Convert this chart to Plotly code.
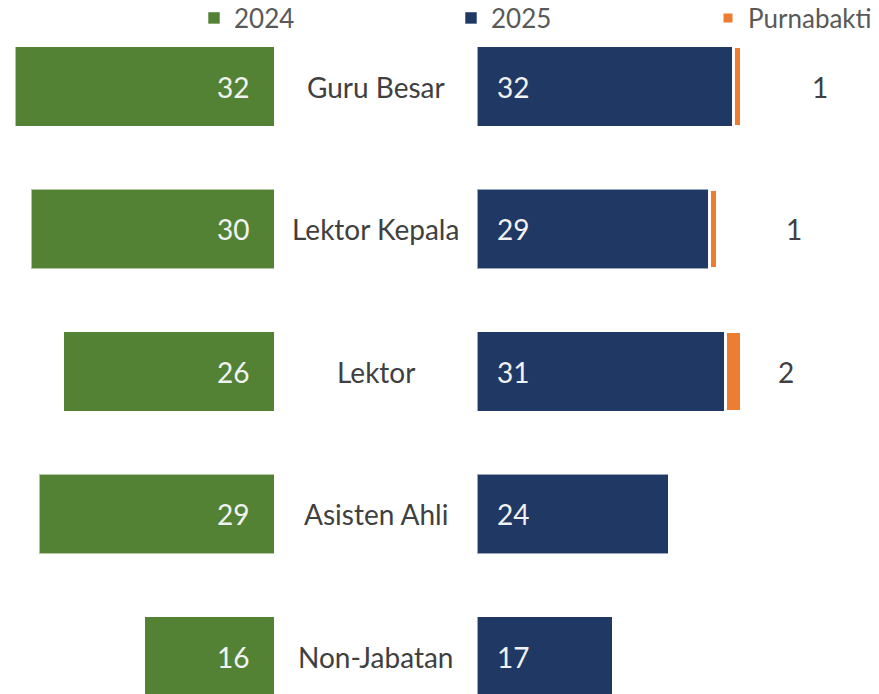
import plotly.graph_objects as go

# Jumlah dosen per jabatan fungsional
categories = ["Guru Besar", "Lektor Kepala", "Lektor", "Asisten Ahli", "Non-Jabatan"]
val_2024 = [32, 30, 26, 29, 16]
val_2025 = [32, 29, 31, 24, 17]
purnabakti = [1, 1, 2, None, None]

# style only: extra offset (px) of the Purnabakti labels
purna_label_shift = [78, 76, 44]

GREEN = "#548235"
NAVY = "#203864"
ORANGE = "#ED7D31"
FONT = "Lato"

# page has an 8px body margin, so the figure is made 8px smaller and
# every pixel position below is measured minus 8
OFF = 8
W, H = 879 - OFF, 694 - OFF
left_zero = 274 - OFF   # px where 2024 bars start (growing left)
right_zero = 477 - OFF  # px where 2025 bars start
px_left = 8.09          # px per unit
px_right = 8.02

fig = go.Figure()

fig.add_trace(go.Bar(
    y=categories, x=val_2024, orientation="h", name="2024",
    marker=dict(color=GREEN, line=dict(color="rgba(255,255,255,0.55)", width=1)),
    width=0.555, xaxis="x", yaxis="y",
))
fig.add_trace(go.Bar(
    y=categories, x=val_2025, orientation="h", name="2025",
    marker=dict(color=NAVY, line=dict(color="rgba(255,255,255,0.55)", width=1)),
    width=0.555, xaxis="x2", yaxis="y",
))
fig.add_trace(go.Bar(
    y=categories, x=[p if p else 0 for p in purnabakti], orientation="h", name="Purnabakti",
    marker=dict(color=ORANGE, line=dict(color="white", width=3)),
    width=0.555, xaxis="x2", yaxis="y",
))

annotations = []
for cat, a, b in zip(categories, val_2024, val_2025):
    annotations.append(dict(x=0, y=cat, xref="x", yref="y", text=str(a), showarrow=False,
                            xshift=-41, font=dict(family=FONT, size=28, color="#F2F2F2")))
    annotations.append(dict(x=0, y=cat, xref="x2", yref="y", text=str(b), showarrow=False,
                            xshift=36, font=dict(family=FONT, size=28, color="#F2F2F2")))
    annotations.append(dict(x=(left_zero + right_zero) / 2 / W, y=cat, xref="paper", yref="y",
                            text=cat, showarrow=False,
                            font=dict(family=FONT, size=28, color="#404040")))
for cat, b, p, sh in zip(categories, val_2025, purnabakti, purna_label_shift):
    if p:
        annotations.append(dict(x=b + p, y=cat, xref="x2", yref="y", text=str(p), showarrow=False,
                                xshift=sh, font=dict(family=FONT, size=28, color="#404040")))

# y range so that first bar centre sits at 86.5 px (page), spacing 142.5 px
row = 142.5
top_c = 86.5 - OFF
y_range = [(H - top_c) / row, -top_c / row]

fig.update_layout(
    width=W, height=H,
    margin=dict(l=0, r=0, t=0, b=0, autoexpand=False),
    plot_bgcolor="white", paper_bgcolor="white",
    barmode="stack",
    showlegend=True,
    legend=dict(orientation="h", x=(208 - OFF - 14) / W, xanchor="left", y=1 - (18 - OFF) / H,
                yanchor="middle", entrywidth=212, entrywidthmode="pixels", traceorder="normal",
                font=dict(family=FONT, size=26, color="#595959"), bgcolor="rgba(0,0,0,0)"),
    xaxis=dict(domain=[0, left_zero / W], range=[left_zero / px_left, 0], visible=False, fixedrange=True),
    xaxis2=dict(domain=[right_zero / W, 1], range=[0, (W - right_zero) / px_right], visible=False,
                fixedrange=True),
    yaxis=dict(categoryorder="array", categoryarray=categories, range=y_range, visible=False),
    annotations=annotations,
)

fig.write_html("out.html")
